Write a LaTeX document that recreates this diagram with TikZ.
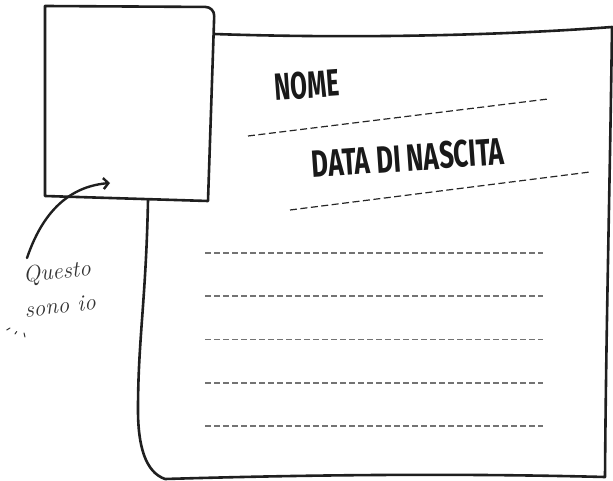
\documentclass[tikz,border=0pt]{standalone}
\usepackage{fontspec}
\usetikzlibrary{arrows.meta}
\newfontfamily\handfont{Fira Sans}
\newcommand{\scriptnote}{\normalfont\itshape\fontsize{23}{23}\selectfont}
\begin{document}
\begin{tikzpicture}[x=1pt,y=-1pt,line cap=round,line join=round,
  outline/.style={draw=black!88,line width=2.6pt},
  sheetdash/.style={draw=black!55,line width=1.4pt,dash pattern=on 6pt off 3pt,line cap=butt},
  fielddash/.style={draw=black!85,line width=1.2pt,dash pattern=on 7pt off 3.5pt,line cap=butt},
  headlabel/.style={font=\handfont\bfseries\fontsize{38}{38}\selectfont,inner sep=0pt,rotate=4,text=black!90},
  notelabel/.style={font=\scriptnote,inner sep=0pt,text=black!80},
  tick/.style={draw=black!80,line width=1pt}]
\useasboundingbox (0,0) rectangle (613,481);
% paper sheet
\draw[outline] (214,34) .. controls (330,38) and (480,37) .. (612,27)
  .. controls (610,180) and (606,330) .. (605,477)
  .. controls (450,473) and (300,475) .. (165,479)
  .. controls (145,472) and (138,445) .. (138,410)
  .. controls (138,340) and (146,300) .. (148,200);
% photo frame
\draw[outline,fill=white] (45,196) -- (208,201) [rounded corners=9pt] -- (214.5,7) [sharp corners] -- (45,6) -- cycle;
% headings
\node[headlabel] (nome) at (307,85) {\scalebox{0.64}[1]{NOME}};
\node[headlabel] (data) at (408,158) {\scalebox{0.68}[1]{DATA DI NASCITA}};
% field lines
\coordinate (f1a) at (248,136); \coordinate (f1b) at (548,99);
\coordinate (f2a) at (290,210); \coordinate (f2b) at (590,172);
\draw[fielddash] (f1a) -- (f1b);
\draw[fielddash] (f2a) -- (f2b);
\foreach \yy in {253,296,339.5,383,426}{
  \draw[sheetdash] (205,\yy) -- (543,\yy);
}
% note
\node[notelabel,rotate=6] (questo) at (57,273) {Questo};
\node[notelabel,rotate=6] (sono) at (60,306) {sono io};
\coordinate (arrA) at (27,258);
\coordinate (arrB) at (110,183);
\draw[outline,line width=2.4pt,-{Straight Barb[length=5pt,width=11pt]}] (arrA) .. controls (45,205) and (75,186) .. (arrB);
\draw[tick] (6.7,330) -- (10,328);
\draw[tick] (15,334) -- (16.7,331.5);
\draw[tick] (24,333) -- (25,337);
\end{tikzpicture}
\end{document}
